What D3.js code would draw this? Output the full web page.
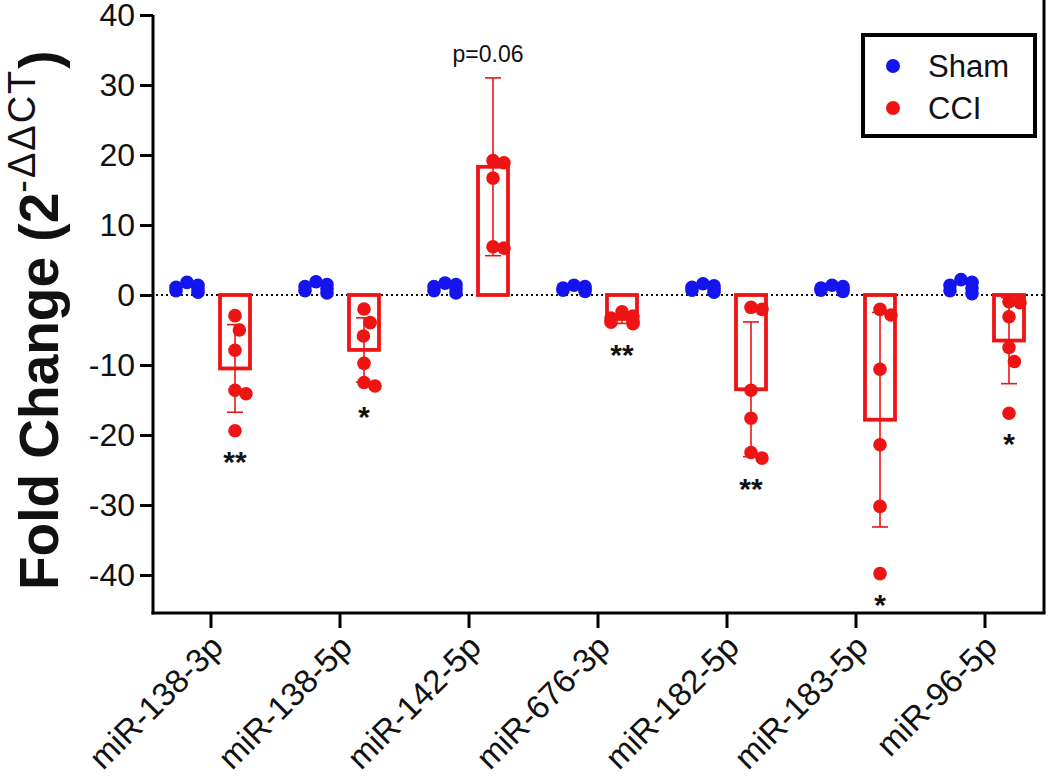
<!DOCTYPE html>
<html><head><meta charset="utf-8">
<script src="https://cdn.jsdelivr.net/npm/d3@7"></script>
<style>
html,body{margin:0;padding:0;background:#fff;}
text{font-family:"Liberation Sans",Arial,sans-serif;}
</style></head>
<body>
<svg id="chart" width="1050" height="779"></svg>
<script>
const categories = ["miR-138-3p","miR-138-5p","miR-142-5p","miR-676-3p","miR-182-5p","miR-183-5p","miR-96-5p"];
const groups = ["Sham","CCI"];
const shamValues = [
  [0.4,0.6,0.9,1.1,1.4,1.8],
  [0.3,0.6,0.9,1.2,1.5,1.9],
  [0.3,0.6,0.9,1.2,1.5,1.7],
  [0.5,0.7,0.9,1.0,1.2,1.4],
  [0.4,0.7,0.9,1.1,1.3,1.6],
  [0.5,0.7,0.9,1.0,1.2,1.4],
  [0.2,0.6,1.0,1.4,1.8,2.2]
];
const cciValues = [
  [-2.95,-5.0,-7.9,-13.6,-14.1,-19.4],
  [-2.0,-3.95,-5.86,-9.76,-13.0,-12.5],
  [19.2,18.9,16.7,6.9,6.7,41.5],
  [-2.4,-3.0,-3.3,-3.9,-4.1,-3.8],
  [-2.05,-1.76,-13.6,-17.6,-23.3,-22.5],
  [-2.86,-2.05,-10.6,-21.4,-30.2,-39.8],
  [-0.95,-1.1,-3.1,-7.5,-9.5,-16.9]
];
const starLabels = ["**","*","","**","**","*","*"];
const pLabels = ["","","p=0.06","","","",""];
const yTicks = [40,30,20,10,0,-10,-20,-30,-40];
const colors = {Sham:"#1414ee", CCI:"#ee1414"};

const svg = d3.select("#chart");
const axisLeftX = 153, axisBottomY = 613, plotRight = 1044, plotTop = 15;

const y = d3.scaleLinear().domain([-40,40]).range([575,15]);
const x = d3.scaleBand().domain(categories).range([146.5,1049.5]).padding(0);
const xSub = d3.scaleBand().domain(groups).range([-48,48]);
const cx = (cat,g) => x(cat) + x.bandwidth()/2 + xSub(g) + xSub.bandwidth()/2;
const inDomain = v => v >= -40 && v <= 40;

// zero dotted line
svg.append("line").attr("x1",axisLeftX+3).attr("x2",plotRight).attr("y1",y(0)).attr("y2",y(0))
  .attr("stroke","#111").attr("stroke-width",2).attr("stroke-dasharray","2,3");

// swarm offsets
function swarm(vals, D, maxOff){
  const idx = vals.map((v,i)=>i).sort((a,b)=>vals[b]-vals[a]);
  const placed = [];
  const out = new Array(vals.length).fill(0);
  idx.forEach(i=>{
    const py = y(vals[i]);
    const cands = [0];
    placed.forEach(p=>{
      const dy = Math.abs(p.y-py);
      if(dy<D){ const dx=Math.sqrt(D*D-dy*dy); cands.push(p.x+dx, p.x-dx); }
    });
    cands.sort((a,b)=>Math.abs(a)-Math.abs(b));
    let best = cands[0];
    for(const c of cands){
      if(placed.every(p=>Math.hypot(p.x-c,p.y-py)>=D-0.01)){best=c;break;}
    }
    best = Math.max(-maxOff, Math.min(maxOff, best));
    placed.push({x:best,y:py});
    out[i]=best;
  });
  return out;
}

const plot = svg.append("g");

categories.forEach((cat,i)=>{
  const vals = cciValues[i];
  const m = d3.mean(vals), sd = d3.deviation(vals);
  const c = cx(cat,"CCI");
  const bw = 30;
  plot.append("rect").attr("x",c-bw/2).attr("width",bw)
    .attr("y",Math.min(y(m),y(0))).attr("height",Math.abs(y(m)-y(0)))
    .attr("fill","#fff").attr("stroke",colors.CCI).attr("stroke-width",3.8);
  const g = plot.append("g").attr("stroke",colors.CCI).attr("stroke-width",1.6);
  g.append("line").attr("x1",c).attr("x2",c).attr("y1",y(m-sd)).attr("y2",y(m+sd));
  [m-sd,m+sd].forEach(v=>g.append("line").attr("x1",c-8).attr("x2",c+8).attr("y1",y(v)).attr("y2",y(v)));
});

categories.forEach((cat,i)=>{
  [["Sham",shamValues[i]],["CCI",cciValues[i]]].forEach(([grp,vals])=>{
    const offs = swarm(vals,15,11);
    const c = cx(cat,grp);
    const pts = vals.map((v,k)=>({v,o:offs[k]})).filter(p=>inDomain(p.v));
    plot.selectAll(null).data(pts).enter().append("circle")
      .attr("cx",d=>c+d.o).attr("cy",d=>y(d.v)).attr("r",6.8)
      .attr("fill",colors[grp]);
  });
  const vals = cciValues[i];
  const c = cx(cat,"CCI");
  if(starLabels[i]){
    svg.append("text").attr("x",c).attr("y",y(d3.min(vals.filter(inDomain)))+41)
      .attr("text-anchor","middle").attr("font-size",30).attr("font-weight","bold")
      .attr("fill","#111").text(starLabels[i]);
  }
  if(pLabels[i]){
    const m = d3.mean(vals), sd = d3.deviation(vals);
    svg.append("text").attr("x",c-5).attr("y",y(m+sd)-16)
      .attr("text-anchor","middle").attr("font-size",23).attr("fill","#111").text(pLabels[i]);
  }
});

// axes
const yAxis = d3.axisLeft(y).tickValues(yTicks).tickSize(13).tickPadding(5).tickFormat(d=>String(d));
const ya = svg.append("g").attr("transform",`translate(${axisLeftX},0)`).call(yAxis);
ya.select(".domain").remove();
ya.selectAll(".tick line").attr("stroke","#000").attr("stroke-width",3);
ya.selectAll(".tick text").attr("font-size",32).attr("fill","#111").attr("font-family","Liberation Sans, Arial, sans-serif");
svg.append("line").attr("x1",axisLeftX).attr("x2",axisLeftX).attr("y1",plotTop).attr("y2",axisBottomY+1.5)
  .attr("stroke","#000").attr("stroke-width",3);

const xAxis = d3.axisBottom(x).tickSize(15).tickPadding(0);
const xa = svg.append("g").attr("transform",`translate(0,${axisBottomY})`).call(xAxis);
xa.select(".domain").remove();
xa.selectAll(".tick line").attr("stroke","#000").attr("stroke-width",3);
xa.selectAll(".tick text").attr("font-size",33).attr("fill","#111")
  .attr("font-family","Liberation Sans, Arial, sans-serif")
  .attr("text-anchor","end").attr("dy",null).attr("y",null)
  .attr("transform","translate(14,36) rotate(-45)");
svg.append("line").attr("x1",axisLeftX-1.5).attr("x2",plotRight+1.5).attr("y1",axisBottomY).attr("y2",axisBottomY)
  .attr("stroke","#000").attr("stroke-width",3);
svg.append("line").attr("x1",plotRight).attr("x2",plotRight).attr("y1",0).attr("y2",axisBottomY)
  .attr("stroke","#000").attr("stroke-width",3);

// y label
const yl = svg.append("text").attr("transform","translate(58,590) rotate(-90)")
  .attr("text-anchor","start").attr("font-size",55).attr("font-weight","bold").attr("fill","#111");
yl.append("tspan").text("Fold Change (2");
yl.append("tspan").attr("font-size",38).attr("font-weight","normal").attr("dy",-23).attr("letter-spacing",2).text("-ΔΔCT");
yl.append("tspan").attr("dy",23).text(")");

// legend
const lg = svg.append("g");
lg.append("rect").attr("x",863).attr("y",35).attr("width",172).attr("height",101)
  .attr("fill","#fff").attr("stroke","#000").attr("stroke-width",4);
groups.forEach((gname,k)=>{
  const ly = 66 + k*42;
  lg.append("circle").attr("cx",893).attr("cy",ly).attr("r",7).attr("fill",colors[gname]);
  lg.append("text").attr("x",928).attr("y",ly+11).attr("font-size",31).attr("fill","#111").text(gname);
});
</script>
</body></html>
